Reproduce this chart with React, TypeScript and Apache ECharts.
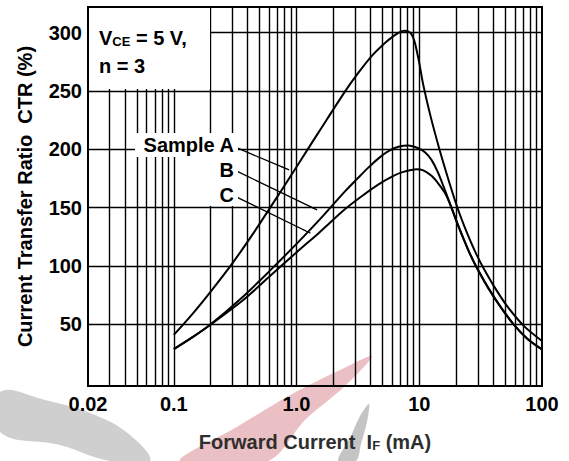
import React, { useEffect, useRef } from "react";
import * as echarts from "echarts";

// ---- data ----
const xTickValues = [0.02, 0.1, 1, 10, 100];
const xTickTexts = ["0.02", "0.1", "1.0", "10", "100"];
const yTickValues = [50, 100, 150, 200, 250, 300];

// vertical grid lines (log cycles)
const xGridValues = [
  0.03, 0.04, 0.05, 0.06, 0.07, 0.08, 0.09,
  0.1, 0.2, 0.3, 0.4, 0.5, 0.6, 0.7, 0.8, 0.9,
  1, 2, 3, 4, 5, 6, 7, 8, 9,
  10, 20, 30, 40, 50, 60, 70, 80, 90,
];

// forward current IF (mA), CTR (%)
const sampleA: [number, number][] = [
  [0.1, 40.8], [0.1433, 59.3], [0.202, 78.6], [0.302, 102.6], [0.4527, 129.2],
  [0.7215, 161.7], [1.048, 188.3], [1.521, 214.9], [2.503, 250.1], [3.207, 265.9],
  [4.11, 280.1], [5.278, 291.3], [6.159, 297.0], [6.887, 300.3], [7.558, 301.6],
  [8.145, 301.1], [8.664, 298.5], [9.111, 293.0], [9.508, 285.2], [10.0, 274.1],
  [10.78, 255.2], [12.28, 229.5], [14.52, 200.9], [17.17, 175.0], [20.31, 150.9],
  [23.14, 134.7], [25.88, 122.3], [29.22, 109.9], [32.98, 99.1], [41.65, 80.7],
  [52.56, 64.8], [71.77, 48.1], [100, 35.6],
];
const sampleB: [number, number][] = [
  [0.1, 28.6], [0.1433, 39.1], [0.1956, 49.1], [0.364, 73.4], [0.5987, 95.3],
  [1.009, 119.3], [1.521, 139.0], [2.503, 164.3], [3.09, 174.2], [3.864, 184.5],
  [4.656, 192.2], [5.61, 198.4], [6.76, 202.1], [8.145, 203.3], [9.82, 200.9],
  [11.19, 197.3], [12.58, 190.9], [14.25, 179.8], [16.15, 165.2], [18.16, 150.9],
  [20.5, 136.0], [23.14, 122.3], [25.88, 110.3], [29.22, 99.1], [36.88, 80.3],
  [46.56, 64.0], [59.57, 49.0], [76.3, 37.4], [100, 28.4],
];
const sampleC: [number, number][] = [
  [0.1, 28.6], [0.1433, 39.1], [0.1956, 49.1], [0.364, 70.4], [0.5987, 90.6],
  [1.009, 112.0], [1.521, 128.3], [2.503, 148.9], [3.52, 160.9], [4.656, 169.9],
  [6.159, 177.2], [7.42, 180.6], [9.508, 182.8], [10.78, 181.9], [12.58, 177.2],
  [14.25, 170.8], [16.15, 162.6], [18.16, 150.9], [20.5, 136.0], [23.14, 122.3],
  [25.88, 110.3], [29.22, 99.1], [36.88, 80.3], [46.56, 64.0], [59.57, 49.0],
  [76.3, 37.4], [100, 28.4],
];

// leader lines from labels to curves: [start, end] in data coordinates
const leaderA: [number, number][] = [[0.332, 200.9], [0.87, 182.3]];
const leaderB: [number, number][] = [[0.332, 180.9], [1.47, 148]];
const leaderC: [number, number][] = [[0.332, 158.6], [1.3, 128]];

const FONT = "'Liberation Sans', Arial, Helvetica, sans-serif";

function fmtX(v: number): string {
  let best = 0;
  let bd = Infinity;
  xTickValues.forEach((t, i) => {
    const d = Math.abs(Math.log10(v) - Math.log10(t));
    if (d < bd) { bd = d; best = i; }
  });
  return xTickTexts[best];
}

function leader(pts: [number, number][]) {
  return {
    silent: true,
    symbol: ["none", "arrow"],
    symbolSize: [1, 9],
    label: { show: false },
    lineStyle: { color: "#000", width: 1.3, type: "solid" },
    emphasis: { disabled: true },
    data: [[{ coord: pts[0] }, { coord: pts[1] }]],
  };
}

export default function App() {
  const ref = useRef<HTMLDivElement>(null);
  useEffect(() => {
    if (!ref.current) return;
    const chart = echarts.init(ref.current, undefined, { renderer: "svg" });
    const curveStyle = { color: "#000", width: 2 };
    const option: any = {
      animation: false,
      backgroundColor: "#fff",
      grid: {
        left: 88, right: 27, top: 7, bottom: 75,
        show: true, borderColor: "#000", borderWidth: 2, backgroundColor: "transparent",
        z: 6,
      },
      xAxis: {
        type: "log",
        logBase: 10,
        min: 0.02,
        max: 100,
        axisLine: { show: false },
        axisTick: { show: false },
        splitLine: { show: false },
        minorTick: { show: false },
        minorSplitLine: { show: false },
        axisLabel: {
          customValues: xTickValues,
          formatter: (v: number) => fmtX(v),
          color: "#000",
          fontFamily: FONT,
          fontWeight: "bold",
          fontSize: 20,
          margin: 8,
          showMinLabel: true,
          showMaxLabel: true,
        },
        name: "{n|Forward Current  I}{s|F}{n| (mA)}",
        nameLocation: "middle",
        nameGap: 44,
        nameTextStyle: {
          rich: {
            n: { fontFamily: FONT, fontWeight: "bold", fontSize: 20, color: "#2e2e2e", verticalAlign: "bottom", lineHeight: 22 },
            s: { fontFamily: FONT, fontWeight: "bold", fontSize: 13, color: "#2e2e2e", verticalAlign: "bottom", lineHeight: 22 },
          },
        },
      },
      yAxis: {
        type: "value",
        min: -3,
        max: 322,
        axisLine: { show: false },
        axisTick: { show: false },
        splitLine: { show: false },
        axisLabel: {
          customValues: yTickValues,
          color: "#000",
          fontFamily: FONT,
          fontWeight: "bold",
          fontSize: 20,
          margin: 6,
        },
        name: "Current Transfer Ratio  CTR (%)",
        nameLocation: "middle",
        nameGap: 53,
        nameTextStyle: { fontFamily: FONT, fontWeight: "bold", fontSize: 20, color: "#000" },
      },
      series: [
        {
          type: "line",
          name: "grid",
          data: [],
          silent: true,
          z: 1,
          markLine: {
            silent: true,
            symbol: ["none", "none"],
            label: { show: false },
            emphasis: { disabled: true },
            lineStyle: { color: "#000", width: 1.4, type: "solid" },
            data: [
              ...xGridValues.map((v) => ({ xAxis: v })),
              ...yTickValues.map((v) => ({ yAxis: v })),
            ],
          },
        },
        {
          type: "line", name: "Sample A", data: sampleA, smooth: 0.3,
          showSymbol: false, lineStyle: curveStyle, z: 5, silent: true, markLine: leader(leaderA),
        },
        {
          type: "line", name: "B", data: sampleB, smooth: 0.3,
          showSymbol: false, lineStyle: curveStyle, z: 5, silent: true, markLine: leader(leaderB),
        },
        {
          type: "line", name: "C", data: sampleC, smooth: 0.3,
          showSymbol: false, lineStyle: curveStyle, z: 5, silent: true, markLine: leader(leaderC),
        },
      ],
      graphic: [
        // faint watermark swooshes
        {
          type: "polygon", z: -10, silent: true,
          shape: { points: [[0, 392], [45, 400], [95, 415], [130, 435], [150, 461], [110, 461], [60, 445], [0, 432]], smooth: 0.4 },
          style: { fill: "#cfcfcf" },
        },
        {
          type: "polygon", z: -10, silent: true,
          shape: { points: [[180, 461], [235, 428], [292, 394], [340, 370], [372, 356], [345, 386], [305, 420], [268, 461]], smooth: 0.3 },
          style: { fill: "#ebc0c4" },
        },
        {
          type: "polygon", z: -10, silent: true,
          shape: { points: [[338, 461], [350, 438], [360, 416], [369, 404], [367, 422], [361, 444], [356, 461]], smooth: 0.3 },
          style: { fill: "#c4c4c4" },
        },
        // label masks
        { type: "rect", z: 50, silent: true, shape: { x: 89, y: 8, width: 121, height: 81 }, style: { fill: "#fff" } },
        { type: "rect", z: 50, silent: true, shape: { x: 135, y: 133, width: 103, height: 24 }, style: { fill: "#fff" } },
        { type: "rect", z: 50, silent: true, shape: { x: 205, y: 133, width: 33, height: 73 }, style: { fill: "#fff" } },
        {
          type: "text", z: 60, silent: true, x: 99, y: 20,
          style: {
            text: "{a|V}{b|CE}{a| = 5 V,}\n{a|n = 3}",
            rich: {
              a: { fontFamily: FONT, fontWeight: "bold", fontSize: 20, lineHeight: 28, fill: "#000", verticalAlign: "bottom" },
              b: { fontFamily: FONT, fontWeight: "bold", fontSize: 13, lineHeight: 28, fill: "#000", verticalAlign: "bottom" },
            },
          },
        },
        {
          type: "text", z: 60, silent: true, x: 234, y: 145,
          style: { text: "Sample A", fontFamily: FONT, fontWeight: "bold", fontSize: 20, fill: "#000", align: "right", verticalAlign: "middle" },
        },
        {
          type: "text", z: 60, silent: true, x: 234, y: 170,
          style: { text: "B", fontFamily: FONT, fontWeight: "bold", fontSize: 20, fill: "#000", align: "right", verticalAlign: "middle" },
        },
        {
          type: "text", z: 60, silent: true, x: 234, y: 195,
          style: { text: "C", fontFamily: FONT, fontWeight: "bold", fontSize: 20, fill: "#000", align: "right", verticalAlign: "middle" },
        },
      ],
    };
    chart.setOption(option);
    return () => chart.dispose();
  }, []);
  return (
    <div
      ref={ref}
      style={{ position: "fixed", left: 0, top: 0, width: 569, height: 461 }}
    />
  );
}
